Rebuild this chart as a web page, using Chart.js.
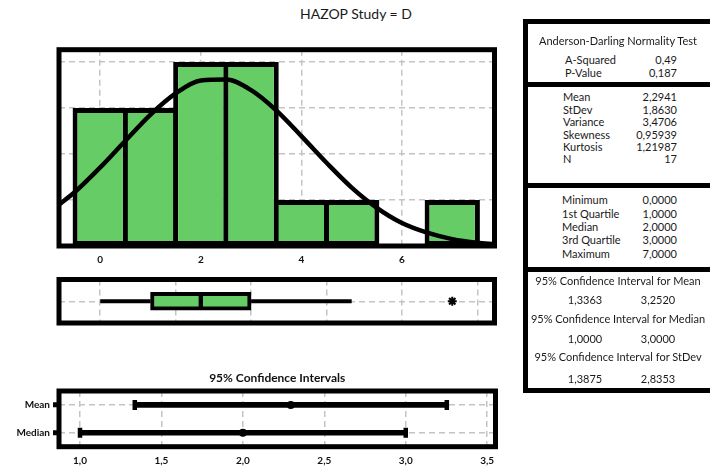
<!DOCTYPE html>
<html>
<head>
<meta charset="utf-8">
<script src="https://cdn.jsdelivr.net/npm/chart.js@4.4.1/dist/chart.umd.min.js"></script>
<style>
  html, body { margin: 0; padding: 0; background: #fff; }
  body { width: 710px; height: 470px; position: relative; overflow: hidden;
         font-family: Lato, "DejaVu Sans", sans-serif; color: #1a1a1a; }
  canvas { position: absolute; }
  #title { position: absolute; left: 0; width: 712px; top: 4px; text-align: center;
           font-size: 14px; line-height: 20px; }
  #stats { position: absolute; left: 523px; top: 19px; width: 200px; height: 364px;
           border: 5px solid #000; }
  .rule { position: absolute; left: 0; right: 0; height: 5px; background: #000; }
  .t { position: absolute; font-size: 11px; line-height: 14px; white-space: nowrap; }
</style>
</head>
<body>
<div id="title">HAZOP Study = D</div>
<div id="stats"></div>
<canvas id="hist" width="520" height="240" style="left:0;top:40px"></canvas>
<canvas id="box" width="520" height="60" style="left:0;top:270px"></canvas>
<canvas id="ci" width="520" height="110" style="left:0;top:360px"></canvas>

<script>
// ---- data ----
const binCenters = [0, 1, 2, 3, 4, 5, 6, 7];
const binCounts  = [3, 3, 4, 4, 1, 1, 0, 1];
const histTicks  = [0, 2, 4, 6];
const countTicks = [1, 2, 3, 4];

// fitted normal density (scaled to counts), read at these x positions
const curveX = [-0.82, -0.5, 0, 0.5, 1, 1.5, 2, 2.5, 3, 3.5, 4, 4.5, 5, 5.5, 6, 6.5, 7, 7.5, 7.84];
const curveY = [0.90, 1.18, 1.71, 2.29, 2.86, 3.32, 3.60, 3.62, 3.39, 2.95, 2.39, 1.81, 1.27, 0.83, 0.50, 0.29, 0.15, 0.07, 0.04];

// box plot
const boxTicks    = [0, 1.5, 3, 4.5, 6, 7.5];
const whiskerLow  = 0;
const quartile1   = 1;
const medianValue = 2;
const quartile3   = 3;
const whiskerHigh = 5;
const outliers    = [7];

// confidence intervals
const ciRows       = ['Mean', 'Median'];
const ciLow        = [1.3363, 1.0];
const ciHigh       = [3.2520, 3.0];
const ciCenter     = [2.2941, 2.0];
const ciTicks      = [1.0, 1.5, 2.0, 2.5, 3.0, 3.5];
const ciTickLabels = ['1,0', '1,5', '2,0', '2,5', '3,0', '3,5'];

// summary table
const adLabels   = ['A-Squared', 'P-Value'];
const adValues   = ['0,49', '0,187'];
const momLabels  = ['Mean', 'StDev', 'Variance', 'Skewness', 'Kurtosis', 'N'];
const momValues  = ['2,2941', '1,8630', '3,4706', '0,95939', '1,21987', '17'];
const quantLabels = ['Minimum', '1st Quartile', 'Median', '3rd Quartile', 'Maximum'];
const quantValues = ['0,0000', '1,0000', '2,0000', '3,0000', '7,0000'];
const intervalTitles = ['95% Confidence Interval for Mean', '95% Confidence Interval for Median', '95% Confidence Interval for StDev'];
const intervalLow    = ['1,3363', '1,0000', '1,3875'];
const intervalHigh   = ['3,2520', '3,0000', '2,8353'];

// ---- summary table ----
const statsBox = document.getElementById('stats');
[57.5, 158.5, 242.5].forEach(top => {
  const r = document.createElement('div');
  r.className = 'rule'; r.style.top = top + 'px';
  statsBox.appendChild(r);
});
function addText(txt, y, opts) {
  const d = document.createElement('div');
  d.className = 't';
  d.textContent = txt;
  d.style.top = (y - 7) + 'px';
  if (opts.left !== undefined) d.style.left = opts.left + 'px';
  if (opts.right !== undefined) { d.style.right = (710 - opts.right) + 'px'; d.style.textAlign = 'right'; }
  if (opts.center !== undefined) { d.style.left = (opts.center - 100) + 'px'; d.style.width = '200px'; d.style.textAlign = 'center'; }
  document.body.appendChild(d);
}
addText('Anderson-Darling Normality Test', 41, { center: 618 });
const adY = [60, 72.5];
adLabels.forEach((l, i) => { addText(l, adY[i], { left: 565 }); addText(adValues[i], adY[i], { right: 677 }); });
const momY = [97, 109.5, 122, 134.5, 147, 159];
momLabels.forEach((l, i) => { addText(l, momY[i], { left: 563 }); addText(momValues[i], momY[i], { right: 677 }); });
const quantY = [200, 213.5, 227, 240, 253.5];
quantLabels.forEach((l, i) => { addText(l, quantY[i], { left: 562 }); addText(quantValues[i], quantY[i], { right: 677 }); });
const headY = [281, 318.5, 357], valY = [300, 338.5, 378.5];
intervalTitles.forEach((l, i) => {
  addText(l, headY[i], { center: 618 });
  addText(intervalLow[i], valY[i], { center: 585 });
  addText(intervalHigh[i], valY[i], { center: 658 });
});

// ---- charts ----
Chart.defaults.font.family = 'Lato, "DejaVu Sans", sans-serif';
Chart.defaults.color = '#111';

const green = '#66CC66';
const frame = {
  id: 'frame',
  afterDatasetsDraw(chart) {
    const a = chart.chartArea, c = chart.ctx;
    c.save();
    c.lineWidth = 5;
    c.strokeStyle = '#000';
    c.strokeRect(a.left, a.top, a.right - a.left, a.bottom - a.top);
    c.restore();
  }
};
const useTicks = vals => scale => { scale.ticks = vals.map(v => ({ value: v })); };
const gridStyle = () => ({ color: '#c4c4c4', lineWidth: 1.5, offset: false, drawTicks: false, tickBorderDash: [] });
const dashed = () => ({ display: false, dash: [6, 4] });
const base = {
  responsive: false, animation: false, devicePixelRatio: 1,
  events: [],
  plugins: { legend: { display: false }, tooltip: { enabled: false } }
};

// histogram with fitted curve
new Chart(document.getElementById('hist'), {
  type: 'bar',
  data: {
    datasets: [
      {
        type: 'line',
        data: curveX.map((x, i) => ({ x, y: curveY[i] })),
        borderColor: '#000', borderWidth: 4.5, pointRadius: 0,
        cubicInterpolationMode: 'monotone', order: 0
      },
      {
        type: 'bar',
        data: binCenters.map((x, i) => ({ x, y: binCounts[i] })),
        backgroundColor: green, borderColor: '#000', borderWidth: 5,
        borderSkipped: false, barPercentage: 1.1, categoryPercentage: 1, order: 1
      }
    ]
  },
  options: {
    ...base,
    layout: { padding: { top: 9.7, right: 25.5, left: 0, bottom: 0 } },
    scales: {
      x: {
        type: 'linear', min: -0.82, max: 7.84, offset: false,
        afterBuildTicks: useTicks(histTicks),
        afterFit: s => { s.height = 34; },
        grid: gridStyle(), border: dashed(),
        ticks: { padding: 8, font: { size: 10, weight: 'bold' }, color: '#111', callback: v => String(v) }
      },
      y: {
        type: 'linear', min: 0, max: 4.27, offset: false,
        afterBuildTicks: useTicks(countTicks),
        afterFit: s => { s.width = 59; },
        grid: gridStyle(), border: dashed(),
        ticks: { display: false }
      }
    }
  },
  plugins: [frame]
});

// box plot
new Chart(document.getElementById('box'), {
  type: 'bar',
  data: {
    datasets: [
      {
        type: 'scatter', showLine: true,
        data: [{ x: whiskerLow, y: 1 }, { x: quartile1, y: 1 }],
        borderColor: '#000', borderWidth: 4, pointRadius: 0, order: 2
      },
      {
        type: 'scatter', showLine: true,
        data: [{ x: quartile3, y: 1 }, { x: whiskerHigh, y: 1 }],
        borderColor: '#000', borderWidth: 4, pointRadius: 0, order: 2
      },
      {
        type: 'bar', indexAxis: 'y',
        data: [{ x: [quartile1, medianValue], y: 1 }, { x: [medianValue, quartile3], y: 1 }],
        backgroundColor: green, borderColor: '#000',
        borderWidth: ctx => ctx.dataIndex === 0
          ? { top: 4, bottom: 4, left: 4, right: 2.5 }
          : { top: 4, bottom: 4, left: 2.5, right: 4 },
        borderSkipped: false, barThickness: 18, order: 1
      },
      {
        type: 'scatter',
        data: outliers.map(x => ({ x, y: 1 })),
        pointStyle: 'star', pointRadius: 4.5, pointBorderWidth: 2,
        pointBorderColor: '#000', pointBackgroundColor: '#000', order: 0
      }
    ]
  },
  options: {
    ...base,
    layout: { padding: { top: 9.5, right: 25.5, left: 0, bottom: 7 } },
    scales: {
      x: {
        type: 'linear', min: -0.82, max: 7.84, offset: false,
        afterBuildTicks: useTicks(boxTicks),
        afterFit: s => { s.height = 0; },
        grid: gridStyle(), border: dashed(),
        ticks: { display: false }
      },
      y: {
        type: 'linear', min: 0, max: 2, offset: false,
        afterBuildTicks: useTicks([1]),
        afterFit: s => { s.width = 59; },
        grid: gridStyle(), border: dashed(),
        ticks: { display: false }
      }
    }
  },
  plugins: [frame]
});

// confidence intervals
new Chart(document.getElementById('ci'), {
  type: 'bar',
  data: {
    labels: ciRows,
    datasets: [
      {
        type: 'bar', indexAxis: 'y',
        data: ciRows.map((r, i) => [ciLow[i], ciHigh[i]]),
        backgroundColor: '#000', borderWidth: 0, barThickness: 5, order: 2
      },
      {
        type: 'scatter',
        data: ciRows.flatMap((r, i) => [{ x: ciLow[i], y: r }, { x: ciHigh[i], y: r }]),
        pointStyle: 'line', pointRotation: 90, pointRadius: 5, pointBorderWidth: 4.5,
        pointBorderColor: '#000', pointBackgroundColor: '#000', order: 1
      },
      {
        type: 'scatter',
        data: ciRows.map((r, i) => ({ x: ciCenter[i], y: r })),
        pointStyle: 'circle', pointRadius: 4, pointBorderWidth: 0,
        pointBackgroundColor: '#000', pointBorderColor: '#000', order: 0
      }
    ]
  },
  options: {
    ...base,
    layout: { padding: { top: 0, right: 24.5, left: 0, bottom: 0 } },
    plugins: {
      ...base.plugins,
      title: {
        display: true, fullSize: false, text: '95% Confidence Intervals',
        color: '#111', font: { size: 12, weight: 'bold' },
        padding: { top: 10.8, bottom: 5.8 }
      }
    },
    scales: {
      x: {
        type: 'linear', min: 0.871, max: 3.551, offset: false,
        afterBuildTicks: useTicks(ciTicks),
        afterFit: s => { s.height = 23.3; },
        grid: gridStyle(), border: dashed(),
        ticks: { padding: 8, font: { size: 10, weight: 'bold' }, color: '#111',
                 callback: (v, i) => ciTickLabels[i] }
      },
      y: {
        type: 'category', labels: ciRows, offset: true,
        afterFit: s => { s.width = 59; },
        grid: { color: '#c4c4c4', lineWidth: 1.5, offset: false, drawTicks: true,
                tickLength: 6, tickWidth: 5, tickColor: '#000', tickBorderDash: [] },
        border: dashed(),
        ticks: { padding: 3, font: { size: 10, weight: 'bold' }, color: '#111' }
      }
    }
  },
  plugins: [frame]
});
</script>
</body>
</html>
